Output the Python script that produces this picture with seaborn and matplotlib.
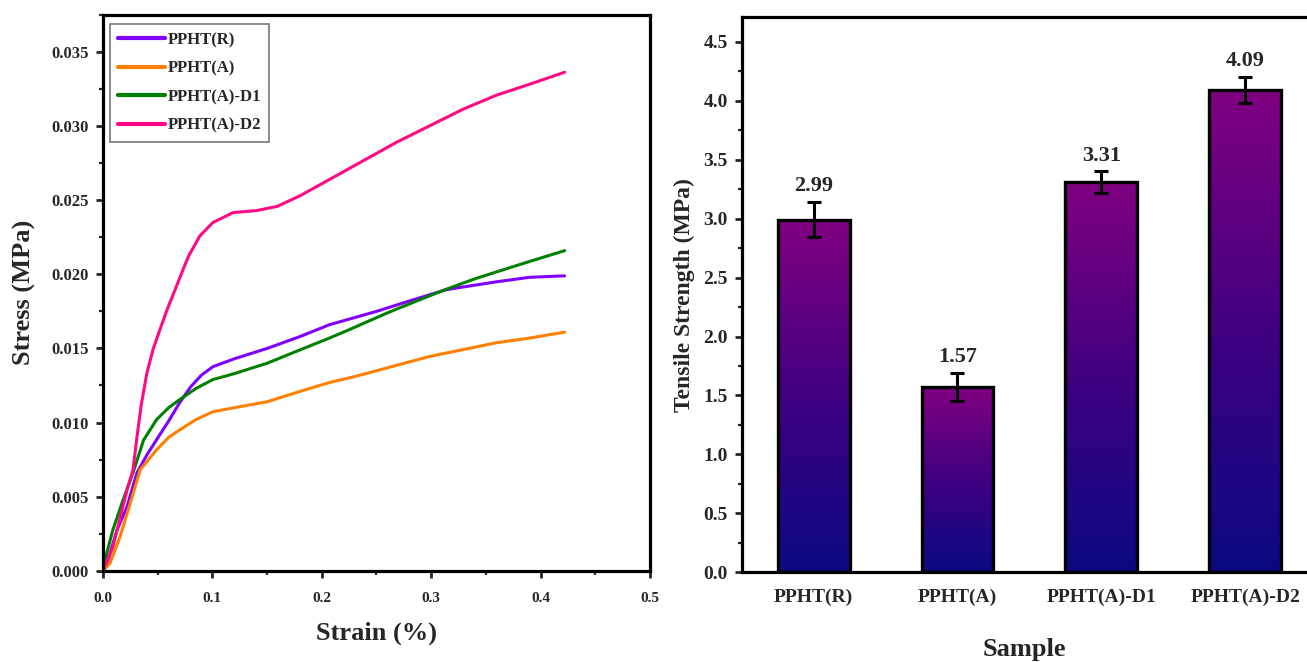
import numpy as np
import pandas as pd
import matplotlib
matplotlib.use("Agg")
import matplotlib.pyplot as plt
import seaborn as sns
from matplotlib.colors import LinearSegmentedColormap
from matplotlib.ticker import MultipleLocator, FormatStrFormatter

# ---------------- data ----------------
series_names = ["PPHT(R)", "PPHT(A)", "PPHT(A)-D1", "PPHT(A)-D2"]
line_colors = ["#8000FF", "#FF8000", "#008000", "#FF0A84"]

r_strain = [0, 0.005, 0.0128, 0.0219, 0.031, 0.040, 0.049, 0.060, 0.070, 0.080, 0.090,
            0.1005, 0.120, 0.150, 0.180, 0.207, 0.250, 0.280, 0.314, 0.360, 0.390, 0.422]
r_stress = [0, 0.0008, 0.00275, 0.0043, 0.0066, 0.0078, 0.00884, 0.0101, 0.01133, 0.0124, 0.0132,
            0.01377, 0.0143, 0.0150, 0.0158, 0.0166, 0.0175, 0.0182, 0.01897, 0.0195, 0.0198, 0.0199]

a_strain = [0, 0.0064, 0.0155, 0.025, 0.034, 0.049, 0.060, 0.070, 0.085, 0.1005, 0.120,
            0.150, 0.180, 0.207, 0.230, 0.2986, 0.360, 0.390, 0.422]
a_stress = [0, 0.0005, 0.00227, 0.00457, 0.00681, 0.00816, 0.0090, 0.0095, 0.0102, 0.01073, 0.0110,
            0.0114, 0.0121, 0.0127, 0.0131, 0.01446, 0.01539, 0.0157, 0.0161]

d1_strain = [0, 0.009, 0.018, 0.0274, 0.037, 0.049, 0.060, 0.070, 0.085, 0.1005, 0.120,
             0.150, 0.180, 0.207, 0.223, 0.260, 0.290, 0.314, 0.340, 0.374, 0.400, 0.422]
d1_stress = [0.0002, 0.00275, 0.0047, 0.0066, 0.0088, 0.0102, 0.0110, 0.01154, 0.0123, 0.0129, 0.0133,
             0.0140, 0.0149, 0.0157, 0.0162, 0.0174, 0.0183, 0.0190, 0.0197, 0.0205, 0.0211, 0.0216]

d2_strain = [0, 0.009, 0.022, 0.0274, 0.031, 0.035, 0.040, 0.046, 0.052, 0.058, 0.065, 0.072, 0.078,
             0.0886, 0.1005, 0.119, 0.140, 0.159, 0.180, 0.207, 0.268, 0.329, 0.360, 0.390, 0.422]
d2_stress = [0, 0.0016, 0.00545, 0.0068, 0.0090, 0.0112, 0.0133, 0.0150, 0.01625, 0.0175, 0.0188, 0.0201, 0.0212,
             0.0226, 0.0235, 0.02417, 0.0243, 0.02458, 0.0253, 0.0264, 0.0289, 0.03114, 0.0321, 0.03283, 0.03364]

samples = ["PPHT(R)", "PPHT(A)", "PPHT(A)-D1", "PPHT(A)-D2"]
strength = [2.99, 1.57, 3.31, 4.09]
strength_err = [0.15, 0.12, 0.09, 0.11]
bar_labels = ["2.99", "1.57", "3.31", "4.09"]

# ---------------- style ----------------
sns.set_style("ticks")
plt.rcParams["font.family"] = ["Liberation Serif", "DejaVu Serif"]
plt.rcParams["font.weight"] = "bold"
plt.rcParams["axes.labelweight"] = "bold"

fig = plt.figure(figsize=(13.07, 6.62), dpi=100)
ax1 = fig.add_axes([0.0788, 0.1379, 0.4185, 0.8394])
ax2 = fig.add_axes([0.5675, 0.1355, 0.4325, 0.8388])

# ---------------- left: stress-strain ----------------
frames = []
for name, xs, ys in zip(series_names,
                        [r_strain, a_strain, d1_strain, d2_strain],
                        [r_stress, a_stress, d1_stress, d2_stress]):
    frames.append(pd.DataFrame({"Strain": xs, "Stress": ys, "Sample": name}))
df_lines = pd.concat(frames, ignore_index=True)

sns.lineplot(data=df_lines, x="Strain", y="Stress", hue="Sample", hue_order=series_names,
             palette=line_colors, sort=False, estimator=None, linewidth=2.2, ax=ax1)

ax1.set_xlim(0, 0.5)
ax1.set_ylim(0, 0.0375)
ax1.xaxis.set_major_locator(MultipleLocator(0.1))
ax1.xaxis.set_minor_locator(MultipleLocator(0.05))
ax1.yaxis.set_major_locator(MultipleLocator(0.005))
ax1.yaxis.set_minor_locator(MultipleLocator(0.0025))
ax1.xaxis.set_major_formatter(FormatStrFormatter("%.1f"))
ax1.yaxis.set_major_formatter(FormatStrFormatter("%.3f"))
ax1.set_xlabel("Strain (%)", fontsize=19, fontweight="bold", labelpad=12)
ax1.set_ylabel("Stress (MPa)", fontsize=19, fontweight="bold", labelpad=11)

leg = ax1.legend(loc="upper left", bbox_to_anchor=(0.0128, 0.984), borderaxespad=0,
                 fontsize=12, handlelength=2.8, handletextpad=0.15, labelspacing=0.75,
                 borderpad=0.5, fancybox=False, frameon=True)
leg.get_frame().set_edgecolor("#555555")
leg.get_frame().set_linewidth(1.2)
for t in leg.get_texts():
    t.set_fontweight("bold")
for h in leg.get_lines():
    h.set_linewidth(3)

# ---------------- right: bars ----------------
df_bars = pd.DataFrame({"Sample": samples, "Strength": strength})
sns.barplot(data=df_bars, x="Sample", y="Strength", order=samples, width=0.5,
            facecolor="none", edgecolor="black", linewidth=2.4, errorbar=None, ax=ax2, zorder=3)

cmap = LinearSegmentedColormap.from_list("pn", ["#0A0A80", "#400080", "#800080"])
grad = np.linspace(0, 1, 256).reshape(-1, 1)
for p in ax2.patches:
    x0, y0 = p.get_x(), p.get_y()
    w, h = p.get_width(), p.get_height()
    im = ax2.imshow(grad, cmap=cmap, origin="lower", aspect="auto",
                    extent=[x0, x0 + w, y0, y0 + h], zorder=2)
    im.set_clip_path(p)

xpos = np.arange(len(samples))
ax2.errorbar(xpos, strength, yerr=strength_err, fmt="none", ecolor="black",
             elinewidth=2.2, capsize=5, capthick=2.2, zorder=4)
for xi, v, e, lab in zip(xpos, strength, strength_err, bar_labels):
    ax2.text(xi, v + e + 0.05, lab, ha="center", va="bottom", fontsize=16, fontweight="bold")

ax2.set_xlim(-0.5, 3.43)
ax2.set_ylim(0, 4.71)
ax2.yaxis.set_major_locator(MultipleLocator(0.5))
ax2.yaxis.set_minor_locator(MultipleLocator(0.25))
ax2.yaxis.set_major_formatter(FormatStrFormatter("%.1f"))
ax2.set_xlabel("Sample", fontsize=19, fontweight="bold", labelpad=23)
ax2.set_ylabel("Tensile Strength (MPa)", fontsize=17, fontweight="bold", labelpad=6)
ax2.spines["right"].set_visible(False)

# ---------------- common axes styling ----------------
for ax in (ax1, ax2):
    for s in ax.spines.values():
        s.set_linewidth(2.3)
        s.set_color("black")
    ax.tick_params(which="major", direction="out", length=5, width=2, pad=5)
    ax.tick_params(which="minor", direction="out", length=3, width=1.6)

ax1.tick_params(axis="x", labelsize=11, pad=10)
ax1.tick_params(axis="y", labelsize=12)
ax2.tick_params(axis="y", labelsize=14)
ax2.tick_params(axis="x", which="both", length=0, labelsize=14, pad=12)
for ax in (ax1, ax2):
    for lab in ax.get_xticklabels() + ax.get_yticklabels():
        lab.set_fontweight("bold")

fig.savefig("out.png", dpi=100)
